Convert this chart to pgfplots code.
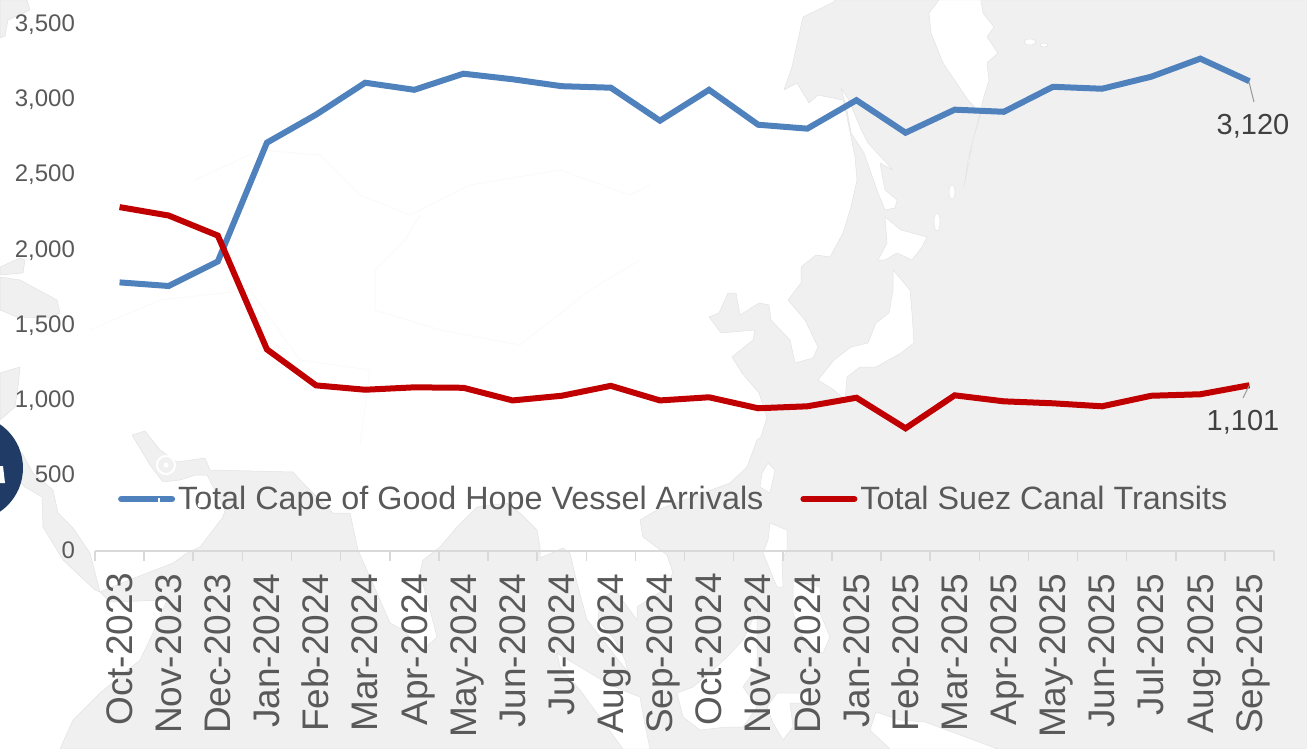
\documentclass[border=0pt]{standalone}
\usepackage{pgfplots}
\pgfplotsset{compat=1.18}
\usepackage{fontspec}
\setmainfont{Liberation Sans}
\definecolor{sea}{HTML}{F0F0F0}
\definecolor{coast}{HTML}{E2E2E2}
\definecolor{border}{HTML}{FAFAFA}
\definecolor{cblue}{HTML}{4F81BD}
\definecolor{cred}{HTML}{C00000}
\definecolor{ticktext}{HTML}{595959}
\definecolor{labeltext}{HTML}{404040}
\definecolor{axisgray}{HTML}{D9D9D9}
\definecolor{navy}{HTML}{1F3B66}
\pgfplotstableread{
x cape suez
0 1784 2284
1 1760 2228
2 1923 2095
3 2712 1339
4 2898 1100
5 3110 1071
6 3063 1087
7 3170 1084
8 3133 1000
9 3087 1031
10 3077 1097
11 2858 1000
12 3063 1021
13 2831 948
14 2805 961
15 2994 1018
16 2778 815
17 2931 1034
18 2917 994
19 3083 981
20 3070 961
21 3150 1031
22 3270 1041
23 3120 1101
}\datatable
\begin{document}
\begin{tikzpicture}
\useasboundingbox (0,0) rectangle (653.5pt,-374.5pt);
\begin{scope}[x=0.5pt,y=-0.5pt,line join=round]
\clip (0,0) rectangle (1307,749);
% water
\filldraw[fill=sea,draw=coast,line width=.25pt]
 (834,0)--(834,2)--(803,17)--(792,67)--(784,90)--(797,83)--(809,103)--(818,95)--(843,100)--(847,117)--(855,157)--(857,180)--(851,207)--(843,233)--(830,257)--(816,255)--(801,267)--(801,283)--(788,300)--(805,320)--(818,347)--(813,358)--(795,363)--(790,340)--(771,320)--(769,305)--(759,303)--(740,315)--(736,293)--(728,293)--(719,313)--(709,317)--(721,333)--(755,330)--(753,340)--(732,357)--(742,373)--(759,393)--(767,417)--(761,437)--(757,440)--(747,467)--(730,483)--(657,510)--(640,520)--(643,537)--(667,555)--(673,573)--(663,590)--(637,607)--(637,620)--(615,590)--(600,600)--(598,620)--(615,640)--(625,660)--(628,672)--(613,653)--(587,620)--(577,583)--(570,553)--(563,548)--(540,558)--(540,547)--(537,530)--(520,513)--(507,503)--(477,507)--(457,527)--(440,547)--(423,560)--(420,573)--(430,610)--(437,637)--(423,650)--(403,630)--(390,623)--(370,577)--(358,550)--(350,513)--(333,513)--(300,480)--(293,472)--(210,470)--(205,458)--(177,462)--(160,450)--(145,431)--(132,435)--(150,465)--(163,482)--(180,480)--(195,475)--(207,475)--(225,510)--(223,517)--(200,547)--(187,553)--(173,563)--(137,577)--(100,592)--(110,602)--(167,600)--(153,633)--(140,660)--(100,693)--(73,720)--(60,749)--(1307,749)--(1307,0)--cycle;
% land on the water
\filldraw[fill=white,draw=coast,line width=.25pt]
 (939,0)--(929,13)--(931,33)--(943,63)--(968,100)--(981,113)--(973,140)--(964,187)--(968,160)--(979,117)--(983,100)--(989,80)--(987,63)--(998,53)--(987,37)--(994,27)--(983,13)--(981,0)--cycle
 (841,88)--(849,100)--(860,127)--(868,143)--(893,170)--(880,163)--(885,190)--(897,200)--(895,208)--(885,210)--(878,193)--(864,153)--(851,133)--(847,110)--cycle
 (885,217)--(901,230)--(927,237)--(922,247)--(912,260)--(897,253)--(885,260)--(878,260)--(887,243)--cycle
 (893,270)--(910,290)--(912,313)--(914,343)--(901,353)--(876,367)--(860,367)--(847,377)--(845,400)--(834,390)--(818,380)--(834,360)--(851,347)--(868,343)--(876,323)--(889,313)--(893,290)--cycle
 (768,463)--(775,470)--(770,493)--(760,487)--(762,473)--cycle
 (770,523)--(787,530)--(787,550)--(782,560)--(783,587)--(777,587)--(763,553)--(768,540)--cycle
 (793,580)--(820,587)--(820,613)--(830,637)--(823,653)--(807,647)--(793,613)--cycle
 (757,610)--(743,640)--(727,657)--(713,670)--(693,687)--(677,693)--(683,717)--(700,730)--(727,727)--(743,727)--(757,707)--(743,687)--(757,667)--cycle
 (557,653)--(580,667)--(610,685)--(640,697)--(645,725)--(650,749)--(623,749)--(607,727)--(580,690)--(560,667)--cycle
 (777,693)--(810,693)--(810,703)--(790,703)--(793,727)--(783,740)--(773,723)--(767,707)--cycle
 (876,712)--(900,720)--(925,722)--(960,735)--(998,749)--(890,749)--(870,730)--cycle
 (952,192) ellipse [x radius=3,y radius=7]
 (937,222) ellipse [x radius=3,y radius=9]
 (1030,42) ellipse [x radius=6,y radius=3]
 (1044,45) ellipse [x radius=4,y radius=2];
% inland seas and the top left
\filldraw[fill=sea,draw=coast,line width=.25pt]
 (0,0)--(27,0)--(30,10)--(8,20)--(5,36)--(0,38)--cycle
 (0,267)--(20,258)--(25,260)--(23,273)--(0,275)--cycle
 (0,277)--(20,280)--(57,300)--(60,313)--(50,318)--(17,317)--(0,310)--cycle
 (20,367)--(18,387)--(15,407)--(0,420)--(0,373)--cycle
 (22,453)--(33,473)--(53,490)--(58,513)--(73,528)--(90,553)--(100,592)--(95,590)--(63,560)--(43,527)--(42,497)--(25,487)--(10,470)--cycle;
% faint borders on land
\draw[border,line width=.5pt]
 (195,180)--(260,150)--(320,155)--(360,195)--(410,215)--(470,185)--(560,170)--(630,195)--(650,185)
 (420,215)--(405,240)--(375,270)--(375,310)--(440,330)--(520,345)--(590,290)--(640,260)
 (90,330)--(160,300)--(250,290)--(300,360)--(370,370)--(360,445);
\end{scope}
\begin{axis}[
  at={(47.5pt,-275.5pt)},anchor=south west,
  scale only axis,width=589.5pt,height=263.5pt,
  xmin=-0.5,xmax=23.5,ymin=0,ymax=3500,
  clip=false,
  axis x line=bottom,axis y line=left,
  x axis line style={draw=axisgray,line width=1pt,-},
  y axis line style={draw=none},
  ytick={0,500,...,3500},
  ytick style={draw=none},
  yticklabel shift=6.5pt,
  yticklabel style={font=\fontsize{12}{14}\selectfont,text=ticktext,text height=0.72em,text depth=0pt,/pgf/number format/.cd,1000 sep={,},assume math mode=true},
  xtick={0,...,23},
  minor xtick={-0.5,0.5,...,23.5},
  major tick length=0pt,minor tick length=5pt,
  tick align=outside,
  xtick style={draw=axisgray,line width=.75pt},
  minor x tick style={draw=axisgray,line width=.75pt},
  xticklabels={Oct-2023,Nov-2023,Dec-2023,Jan-2024,Feb-2024,Mar-2024,Apr-2024,May-2024,Jun-2024,Jul-2024,Aug-2024,Sep-2024,Oct-2024,Nov-2024,Dec-2024,Jan-2025,Feb-2025,Mar-2025,Apr-2025,May-2025,Jun-2025,Jul-2025,Aug-2025,Sep-2025},
  xticklabel shift=11pt,
  xticklabel style={font=\fontsize{18.5}{20}\selectfont,text=ticktext,rotate=90,anchor=east,text height=0.72em,text depth=0pt,inner sep=0pt,yshift=-2.75pt},
  legend columns=2,
  legend style={at={(0.0196,0.0987)},anchor=west,draw=none,fill=none,inner sep=0pt,outer sep=0pt,font=\fontsize{16.15}{18}\selectfont,text=ticktext,
    /tikz/every even column/.append style={column sep=17pt},
    nodes={inner sep=1.5pt}},
  legend image code/.code={\draw[#1,line cap=round] (0pt,0pt) -- (25.5pt,0pt);},
]
\addplot[cblue,line width=3pt,line join=miter] table[x=x,y=cape] {\datatable};
\addlegendentry{Total Cape of Good Hope Vessel Arrivals}
\addplot[cred,line width=3pt,line join=miter] table[x=x,y=suez] {\datatable};
\addlegendentry{Total Suez Canal Transits}
\end{axis}
\begin{scope}[x=0.5pt,y=-0.5pt]
\draw[gray!80,line width=.5pt] (1249,82)--(1254,102);
\draw[gray!80,line width=.5pt] (1249,386)--(1243,398);
\node[font=\fontsize{14.5}{16}\selectfont,text=labeltext,inner sep=0pt] at (1253,126) {3,120};
\node[font=\fontsize{14.5}{16}\selectfont,text=labeltext,inner sep=0pt] at (1243,422) {1,101};
% overlaid marker and badge
\begin{scope}
\clip (0,0) rectangle (1307,749);
\fill[navy] (-30,468) circle [radius=53];
\fill[white] (0,466)--(3,466)--(5,483)--(0,483)--cycle;
\end{scope}
\draw[white,line width=1pt] (166,465) circle [radius=9];
\fill[white] (166,465) circle [radius=2.5];
\draw[white,line width=.8pt] (156,482)--(190,486);
\fill[white] (122,505) rectangle (134,508);
\fill[white] (158,498) rectangle (160,505);
\fill[white] (200,505) circle [radius=2.5];
\end{scope}
\end{tikzpicture}
\end{document}
